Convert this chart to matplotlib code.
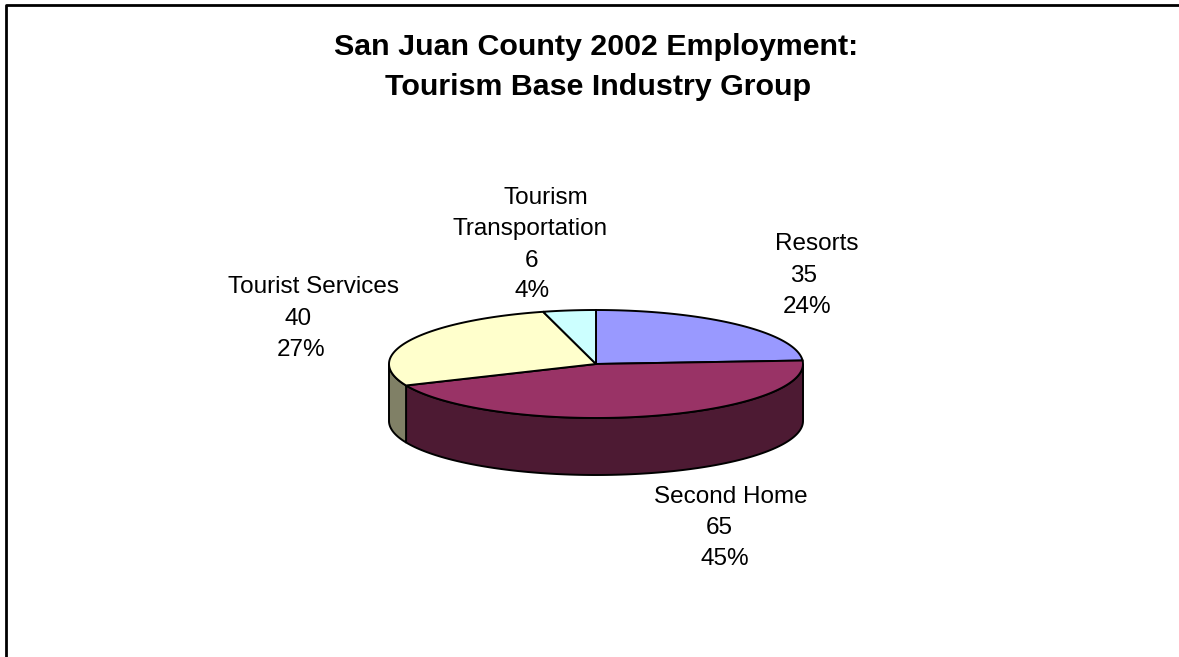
import matplotlib
matplotlib.use('Agg')
import matplotlib.pyplot as plt
import numpy as np
from matplotlib.patches import Polygon

labels = ['Resorts', 'Second Home', 'Tourist Services', 'Tourism\nTransportation']
values = [35, 65, 40, 6]
percents = [24, 45, 27, 4]
top_colors = ['#9999FF', '#993366', '#FFFFCC', '#CCFFFF']
side_colors = ['#4D4D80', '#4D1A33', '#808066', '#668080']

# pie geometry in pixel units
CX, CY = 596, 364
RX, RY = 207, 54
DEPTH = 57

plt.rcParams['font.family'] = ['Liberation Sans', 'DejaVu Sans']

fig = plt.figure(figsize=(11.79, 6.57), dpi=100)
ax = fig.add_axes([0, 0, 1, 1])
ax.set_xlim(0, 1179)
ax.set_ylim(657, 0)
ax.axis('off')


def rim(a0, a1, n=120):
    # points on the ellipse, angle clockwise from 12 o'clock
    t = np.linspace(a0, a1, n)
    return CX + RX * np.sin(t), CY - RY * np.cos(t)


edges = np.concatenate([[0], np.cumsum(values)]) / sum(values) * 2 * np.pi

# outer wall, only the front half of the ellipse is visible
for i in range(len(values)):
    a0 = max(edges[i], np.pi / 2)
    a1 = min(edges[i + 1], 3 * np.pi / 2)
    if a1 <= a0:
        continue
    x, y = rim(a0, a1)
    pts = np.concatenate([np.c_[x, y], np.c_[x, y + DEPTH][::-1]])
    ax.add_patch(Polygon(pts, closed=True, fc=side_colors[i], ec='black', lw=1.4, zorder=2))

# top face
for i in range(len(values)):
    x, y = rim(edges[i], edges[i + 1])
    pts = np.concatenate([[[CX, CY]], np.c_[x, y]])
    ax.add_patch(Polygon(pts, closed=True, fc=top_colors[i], ec='black', lw=1.4, zorder=3))

# chart frame
ax.plot([6, 6, 1179], [657, 5, 5], color='black', lw=2, zorder=1)

ax.text(596, 55, 'San Juan County 2002 Employment:', fontsize=21.9, fontweight='bold',
        ha='center', va='baseline')
ax.text(598, 95, 'Tourism Base Industry Group', fontsize=21.9, fontweight='bold',
        ha='center', va='baseline')

# each label row is placed on its own (x centre, baseline)
row_pos = [
    [(817, 250), (804, 282), (807, 313)],
    [(731, 503), (719, 534), (725, 565)],
    [(314, 293), (298, 325), (301, 356)],
    [(546, 204), (530, 235), (532, 267), (532.5, 297)],
]
for name, val, pct, places in zip(labels, values, percents, row_pos):
    rows = name.split('\n') + [str(val), f'{pct}%']
    for row, (lx, ly) in zip(rows, places):
        ax.text(lx, ly, row, fontsize=17.5, ha='center', va='baseline', color='black')

fig.savefig('out.png', dpi=100, facecolor='white')
